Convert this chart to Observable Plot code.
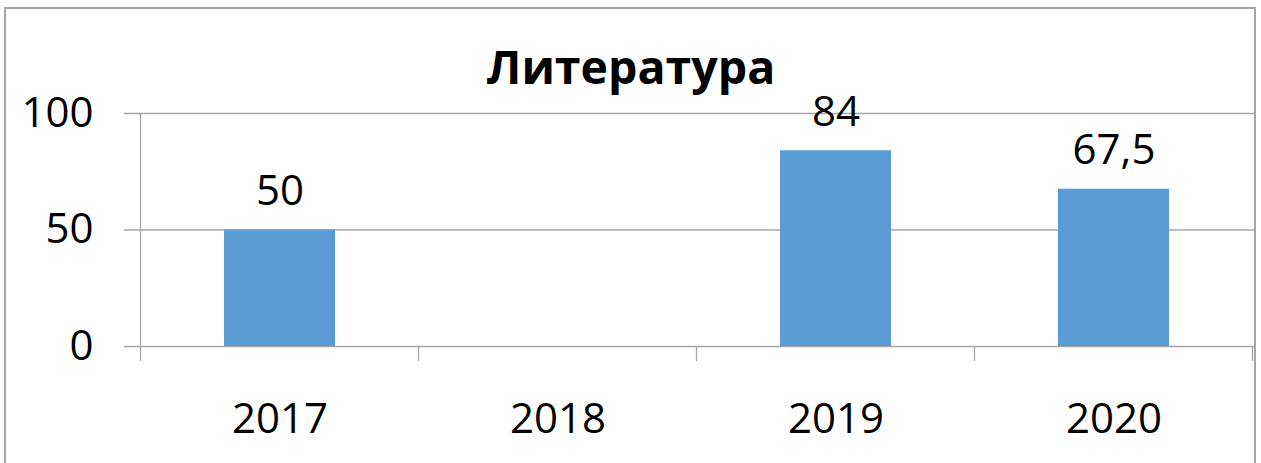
<!DOCTYPE html>
<html>
<head>
<meta charset="utf-8">
<script src="https://cdn.jsdelivr.net/npm/d3@7"></script>
<script src="https://cdn.jsdelivr.net/npm/@observablehq/plot@0.6"></script>
<style>
  html, body { margin: 0; padding: 0; background: #fff; }
  #wrap { position: relative; width: 1261px; height: 463px; overflow: hidden; }
  #border { position: absolute; left: 4px; top: 7px; width: 1248px; height: 480px;
            border: 2px solid #a6a6a6; pointer-events: none; box-sizing: content-box; }
</style>
</head>
<body>
<div id="wrap"><div id="border"></div></div>
<script>
const title = "Литература";
const years = ["2017", "2018", "2019", "2020"];
const values = [50, null, 84, 67.5];
const yTicks = [0, 50, 100];

const data = years.map((y, i) => ({year: y, value: values[i]}));
const fmt = v => String(v).replace(".", ",");
const font = "'Open Sans', 'Noto Sans', sans-serif";
const grid = "#a6a6a6";

const plot = Plot.plot({
  width: 1261,
  height: 463,
  marginLeft: 139,
  marginRight: 7,
  marginTop: 113,
  marginBottom: 117,
  style: {fontFamily: font, background: "transparent", overflow: "visible"},
  x: {domain: years, paddingInner: 0.6, paddingOuter: 0.3, label: null},
  y: {domain: [0, 100], ticks: yTicks, label: null},
  marks: [
    Plot.ruleY(yTicks, {stroke: grid, strokeWidth: 1.3, insetLeft: -15}),
    Plot.barY(data.filter(d => d.value != null), {x: "year", y: "value", fill: "#5b9bd5"}),
    Plot.text(data.filter(d => d.value != null), {
      x: "year", y: "value", text: d => fmt(d.value),
      lineAnchor: "bottom", dy: -25, fontSize: 42, fill: "black"
    }),
    Plot.axisY({ticks: yTicks, tickSize: 0, tickPadding: 46, fontSize: 42, color: "black", label: null}),
    Plot.axisX({tickSize: 0, tickPadding: 57, fontSize: 42, color: "black", label: null}),
    Plot.text([title], {
      frameAnchor: "top", dx: -66, dy: -30, lineAnchor: "bottom",
      fontSize: 46.5, fontWeight: "bold", fill: "black", text: d => d
    })
  ]
});

document.getElementById("wrap").prepend(plot);

// category-boundary ticks and vertical axis line, placed with Plot's own scales
const sx = plot.scale("x"), sy = plot.scale("y");
const half = (sx.step - sx.bandwidth) / 2;
const bounds = years.map(y => sx.apply(y) - half);
bounds.push(sx.apply(years[years.length - 1]) + sx.bandwidth + half);
const y0 = sy.apply(0), yTop = sy.apply(100);
const svg = d3.select(plot);
svg.append("line")
  .attr("x1", bounds[0]).attr("x2", bounds[0])
  .attr("y1", yTop).attr("y2", y0 + 15)
  .attr("stroke", grid).attr("stroke-width", 1.3);
svg.selectAll("line.bt").data(bounds.slice(1)).join("line")
  .attr("class", "bt")
  .attr("x1", d => d).attr("x2", d => d)
  .attr("y1", y0).attr("y2", y0 + 15)
  .attr("stroke", grid).attr("stroke-width", 1.3);
</script>
</body>
</html>
